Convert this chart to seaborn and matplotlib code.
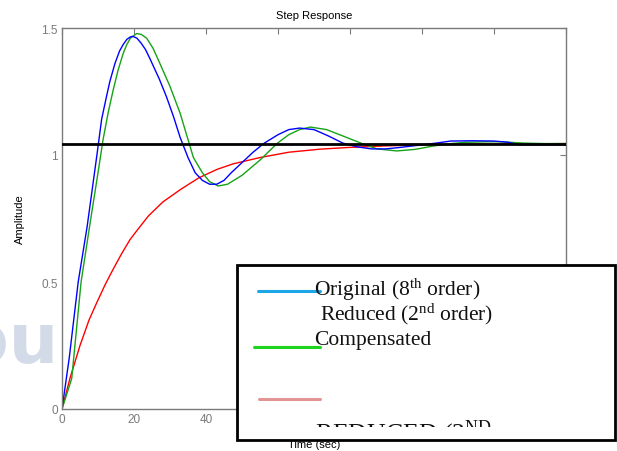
import matplotlib
matplotlib.use("Agg")
import matplotlib.pyplot as plt
import seaborn as sns
import pandas as pd
from matplotlib.patches import Rectangle
from matplotlib.lines import Line2D

# ---------------- data ----------------
t_orig = [0, 2, 4.5, 7, 9.7, 11, 12.2, 13.3, 14.7, 16, 17, 18, 19, 19.7, 20.8, 22, 23.2, 24.4, 27,
          29, 31, 32.8, 35, 37, 39, 41, 43, 45, 47, 50, 53, 56, 60, 63, 66, 70, 74, 78, 82, 86,
          90, 94, 97, 100, 104, 108, 114, 120, 124, 127, 132, 140]
y_orig = [0, 0.2, 0.5, 0.72, 1.0, 1.14, 1.22, 1.29, 1.36, 1.41, 1.435, 1.455, 1.465, 1.467, 1.46,
          1.44, 1.415, 1.38, 1.30, 1.23, 1.15, 1.07, 0.99, 0.93, 0.90, 0.885, 0.885, 0.90, 0.93,
          0.97, 1.01, 1.045, 1.08, 1.10, 1.106, 1.10, 1.075, 1.047, 1.032, 1.024, 1.024, 1.03,
          1.035, 1.04, 1.047, 1.055, 1.056, 1.055, 1.05, 1.04, 1.04, 1.04]

t_comp = [0, 2.7, 5.3, 8, 10, 11.4, 12.8, 14.2, 15.6, 17, 18, 19, 20.7, 22, 23.5, 25.3, 27.2, 30,
          32.8, 36.5, 39, 41, 43.4, 46, 50, 55, 59.7, 63, 66, 69, 73.5, 78, 83, 87.5, 93, 98,
          103, 108, 112, 118, 122, 128, 134, 140]
y_comp = [0, 0.12, 0.5, 0.75, 0.93, 1.06, 1.165, 1.255, 1.335, 1.40, 1.435, 1.46, 1.478, 1.475,
          1.46, 1.42, 1.36, 1.27, 1.165, 0.99, 0.93, 0.895, 0.878, 0.885, 0.92, 0.98, 1.045,
          1.08, 1.10, 1.11, 1.10, 1.075, 1.047, 1.024, 1.016, 1.022, 1.035, 1.045, 1.05, 1.052,
          1.052, 1.047, 1.045, 1.045]

t_red = [0, 2.2, 5, 7.5, 9.7, 12, 14.2, 16.5, 18.9, 21, 24, 28, 33, 38, 43, 47.5, 55, 63, 71.7,
         80, 90, 100, 115, 130, 140]
y_red = [0, 0.12, 0.25, 0.35, 0.42, 0.49, 0.55, 0.61, 0.667, 0.706, 0.76, 0.815, 0.865, 0.91,
         0.943, 0.965, 0.99, 1.011, 1.023, 1.03, 1.036, 1.04, 1.043, 1.044, 1.045]

steady_value = 1.045

x_ticks = [0, 20, 40, 60, 80, 100, 120, 140]
y_ticks = [0, 0.5, 1, 1.5]
y_tick_labels = ["0", "0.5", "1", "1.5"]

legend_labels = [r"Original (8$^{\mathrm{th}}$ order)",
                 r"Reduced (2$^{\mathrm{nd}}$ order)",
                 "Compensated",
                 r"REDUCED (2$^{\mathrm{ND}}$"]

# ---------------- figure ----------------
sns.set_style("white")
plt.rcParams["font.family"] = ["Liberation Sans", "DejaVu Sans"]
plt.rcParams["mathtext.fontset"] = "custom"
plt.rcParams["mathtext.rm"] = "Liberation Serif"
plt.rcParams["mathtext.it"] = "Liberation Serif:italic"
plt.rcParams["mathtext.bf"] = "Liberation Serif:bold"

W, H = 617, 452
fig = plt.figure(figsize=(W / 100, H / 100), dpi=100)

def fx(x):
    return x / W

def fy(y):
    return 1 - y / H

# faint watermark
fig.text(fx(58), fy(363), "ou", fontsize=50, fontweight="bold",
         color="#d3dbe8", family="DejaVu Sans", va="baseline", ha="right", zorder=0)

ax = fig.add_axes([fx(62), fy(410), fx(566) - fx(62), fy(29) - fy(410)])
ax.set_facecolor("none")

d1 = pd.DataFrame({"t": t_orig, "y": y_orig})
d2 = pd.DataFrame({"t": t_comp, "y": y_comp})
d3 = pd.DataFrame({"t": t_red, "y": y_red})
sns.lineplot(data=d3, x="t", y="y", ax=ax, color="#ff0000", lw=1.0, sort=False)
sns.lineplot(data=d2, x="t", y="y", ax=ax, color="#16a316", lw=1.0, sort=False)
sns.lineplot(data=d1, x="t", y="y", ax=ax, color="#0000ff", lw=1.0, sort=False)
ax.axhline(steady_value, color="black", lw=2.0, zorder=5)

ax.set_xlim(0, 140)
ax.set_ylim(0, 1.5)
ax.set_xticks(x_ticks)
ax.set_xticklabels([str(v) for v in x_ticks])
ax.set_yticks(y_ticks)
ax.set_yticklabels(y_tick_labels)
ax.tick_params(direction="in", length=4, width=0.8, colors="#7a7a7a", labelsize=8.5,
               top=True, right=True, pad=3)
for s in ax.spines.values():
    s.set_visible(True)
    s.set_color("#7a7a7a")
    s.set_linewidth(1.0)

ax.set_title("Step Response", fontsize=8, color="black", pad=7)
ax.set_ylabel("Amplitude", fontsize=8, color="black", labelpad=12)
ax.set_xlabel("Time (sec)", fontsize=8, color="black", labelpad=10)

# ---------------- overlaid legend box ----------------
box = Rectangle((fx(237), fy(441)), fx(615) - fx(237), fy(266) - fy(441),
                transform=fig.transFigure, facecolor="white", edgecolor="black",
                lw=2.0, zorder=20)
fig.patches.append(box)

leg_lines = [((258, 320), 292, "#1ca6e8"),
             ((254, 320), 348, "#1ed41e"),
             ((259, 320), 400, "#e39494")]
for (x0, x1), yy, c in leg_lines:
    fig.add_artist(Line2D([fx(x0), fx(x1)], [fy(yy), fy(yy)], transform=fig.transFigure,
                          color=c, lw=2.2, zorder=22))

serif = ["Liberation Serif", "DejaVu Serif"]
fig.text(fx(314), fy(296), legend_labels[0], fontsize=15.5, family=serif, color="#111111",
         va="baseline", ha="left", zorder=23)
fig.text(fx(320), fy(320), legend_labels[1], fontsize=15.5, family=serif, color="#111111",
         va="baseline", ha="left", zorder=23)
fig.text(fx(314), fy(345), legend_labels[2], fontsize=15.5, family=serif, color="#111111",
         va="baseline", ha="left", zorder=23)
clip = Rectangle((fx(240), fy(428)), fx(612) - fx(240), fy(268) - fy(428),
                 transform=fig.transFigure, facecolor="none", edgecolor="none")
t4 = fig.text(fx(315), fy(441), legend_labels[3], fontsize=18.5, family=serif,
              color="#111111", va="baseline", ha="left", zorder=23)
t4.set_clip_path(clip)

fig.savefig("out.png", dpi=100)
